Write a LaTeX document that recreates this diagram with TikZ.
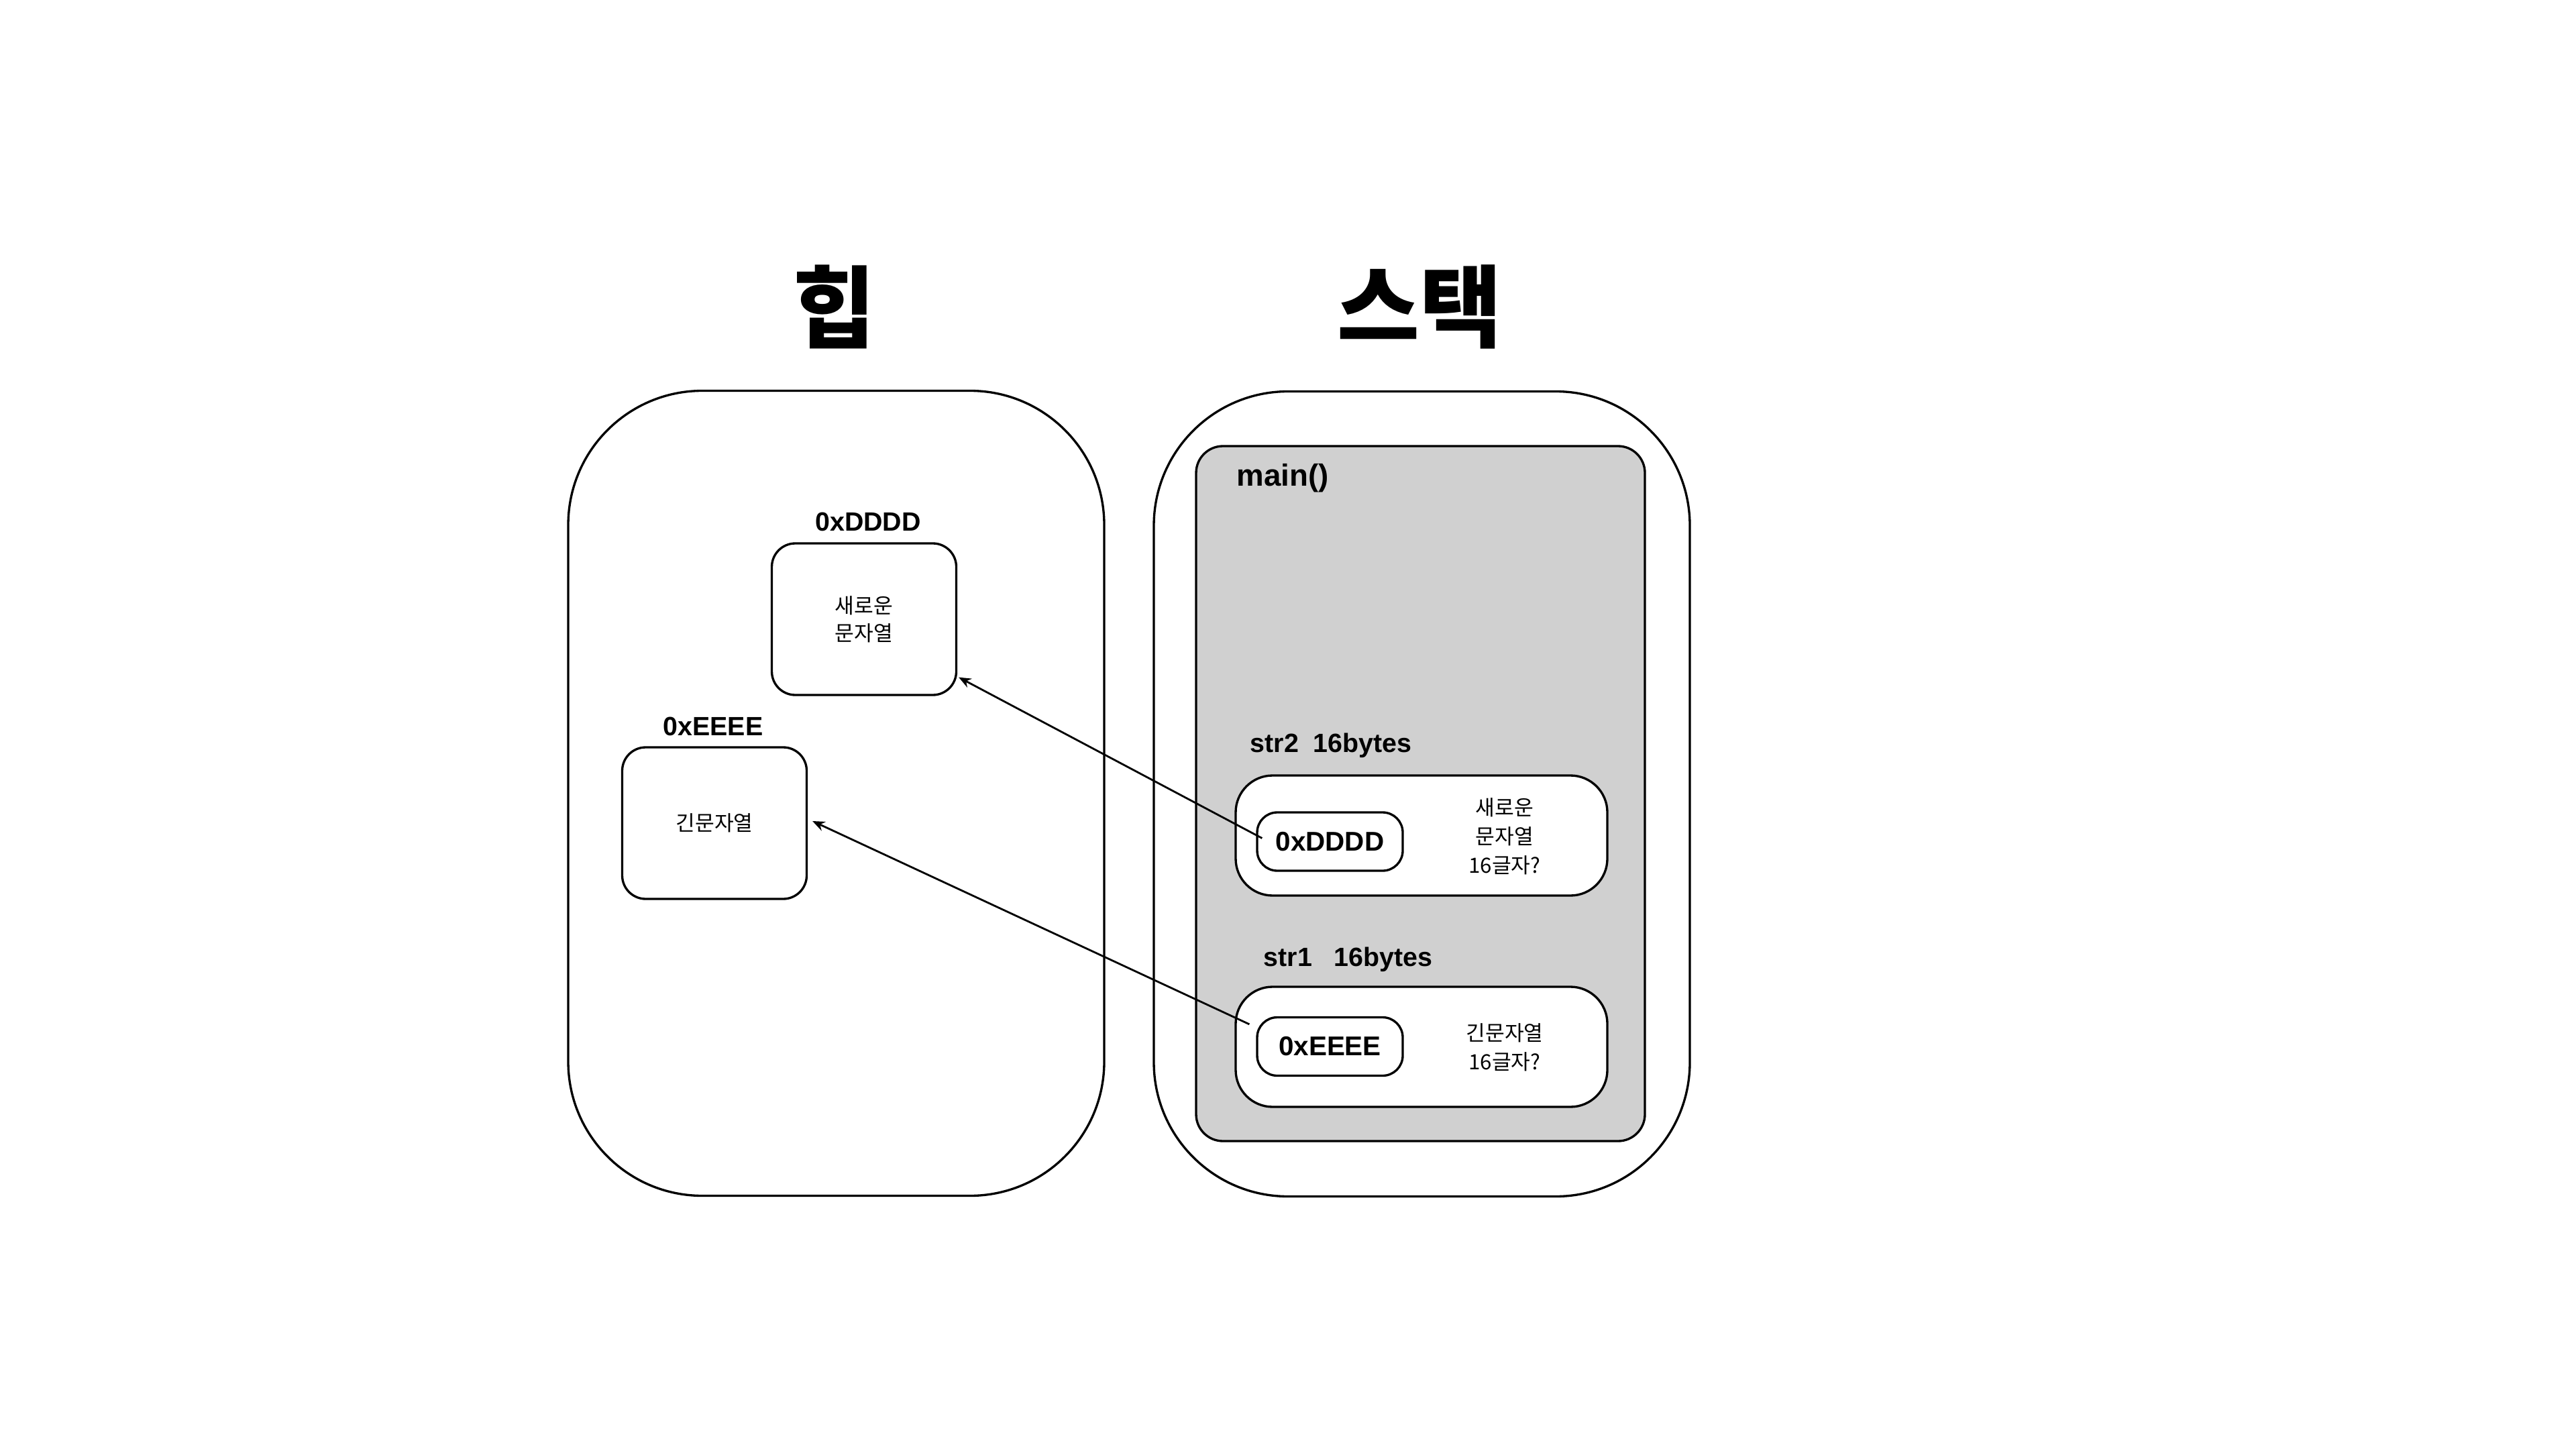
\documentclass[tikz,border=0pt]{standalone}
\usepackage{fontspec}
\setmainfont{Liberation Sans}
\newfontfamily\kr{Noto Sans CJK KR}
\usepackage{tikz}
\usetikzlibrary{arrows.meta,positioning,calc}
\definecolor{framegray}{RGB}{208,208,208}

\begin{document}
\begin{tikzpicture}[
    region/.style={rectangle, draw, line width=0.95pt, rounded corners=2cm,
               minimum width=7.99cm, minimum height=12cm},
    frame/.style={rectangle, draw, line width=0.95pt, rounded corners=0.4cm, fill=framegray,
               minimum width=6.69cm, minimum height=10.36cm},
    cell/.style={rectangle, draw, line width=0.95pt, rounded corners=0.55cm, fill=white,
               minimum width=5.54cm, minimum height=1.79cm},
    ptr/.style={rectangle, draw, line width=0.95pt, rounded corners=0.3cm, fill=white,
               minimum width=2.17cm, minimum height=0.87cm, font=\fontsize{11.5}{14}\selectfont\bfseries},
    blob/.style={rectangle, draw, line width=0.95pt, rounded corners=0.35cm,
               minimum width=2.75cm, minimum height=2.26cm, align=center, font=\kr\fontsize{8.9}{11.7}\selectfont},
    tag/.style={font=\fontsize{11.2}{13}\selectfont\bfseries, inner sep=0pt},
    note/.style={align=center, font=\kr\fontsize{8.9}{12.2}\selectfont},
    title/.style={font=\kr\bfseries\fontsize{38}{40}\selectfont},
    arr/.style={-{Stealth[length=5.2pt,width=4.2pt]}, line width=0.8pt}
]
    \useasboundingbox (0,0) rectangle (38.4,-21.6);

    % heap and stack
    \node[title]  (heaptitle)  at (12.44,-4.57) {힙};
    \node[title]  (stacktitle) at (21.16,-4.57) {스택};
    \node[region] (heap)  at (12.465,-11.825) {};
    \node[region] (stack) at (21.195,-11.835) {};
    \node[frame]  (main)  at (21.175,-11.83) {};
    \node[tag, anchor=base west, font=\fontsize{13}{15}\selectfont\bfseries] (mainlbl) at (18.43,-7.24) {main()};

    % heap objects
    \node[tag]  (newaddr)  at (12.94,-7.78)  {0xDDDD};
    \node[blob] (newstr)   at (12.88,-9.23)  {새로운\\문자열};
    \node[tag]  (longaddr) at (10.63,-10.83) {0xEEEE};
    \node[blob] (longstr)  at (10.65,-12.27) {긴문자열};

    % stack variables
    \node[tag, anchor=base west] (str2lbl) at (18.63,-11.21) {str2\ \ 16bytes};
    \node[cell] (str2)    at (21.19,-12.455) {};
    \node[ptr]  (ptrD)    at (19.825,-12.545) {0xDDDD};
    \node[note] (str2txt) at (22.43,-12.47) {새로운\\문자열\\16글자?};

    \node[tag, anchor=base west] (str1lbl) at (18.83,-14.40) {str1\ \ \ 16bytes};
    \node[cell] (str1)    at (21.19,-15.605) {};
    \node[ptr]  (ptrE)    at (19.825,-15.60) {0xEEEE};
    \node[note] (str1txt) at (22.43,-15.61) {긴문자열\\16글자?};

    \draw[arr] ($(ptrD.west)+(0.09,0.05)$) -- ($(newstr.south east)+(0.02,0.28)$);
    \draw[arr] ($(ptrE.north west)+(-0.10,-0.12)$) -- ($(longstr.east)+(0.07,0.03)$);
\end{tikzpicture}
\end{document}
